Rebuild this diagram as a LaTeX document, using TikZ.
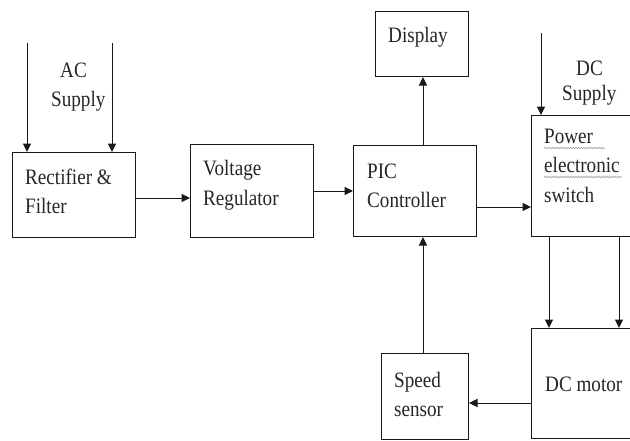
\documentclass[tikz,border=0pt]{standalone}
\usepackage{fontspec}
\setmainfont[FakeStretch=0.87]{Liberation Serif}
\usetikzlibrary{arrows.meta,decorations.pathmorphing}
\tikzset{
  box/.style={draw=black!90, line width=1pt, inner sep=0pt, anchor=north west},
  lbl/.style={inner sep=0pt, anchor=base west, text=black!85, font=\fontsize{22}{29}\selectfont},
  arr/.style={draw=black!90, line width=1pt, -{Triangle[length=8.5pt,width=8pt]}},
  squig/.style={draw=gray!70, line width=0.6pt, decorate, decoration={snake, amplitude=0.8pt, segment length=2.6pt}}
}
\begin{document}
\begin{tikzpicture}[x=1pt,y=-1pt]
\useasboundingbox (0,0) rectangle (630,440);
\clip (0,0) rectangle (630,440);
\fill[white] (0,0) rectangle (630,440);
% boxes
\node[box, minimum width=123pt, minimum height=85pt] (rect) at (12,152) {};
\node[box, minimum width=123pt, minimum height=93pt] (volt) at (190,144) {};
\node[box, minimum width=123pt, minimum height=91pt] (pic) at (353,145) {};
\node[box, minimum width=93pt, minimum height=65pt] (disp) at (375,11) {};
\node[box, minimum width=110pt, minimum height=121pt] (sw) at (531,115) {};
\node[box, minimum width=110pt, minimum height=110pt] (motor) at (531,328) {};
\node[box, minimum width=87pt, minimum height=86pt] (sensor) at (381,353) {};
% texts
\node[lbl] (t1) at (25,184) {Rectifier \&};
\node[lbl] (t2) at (25,213) {Filter};
\node[lbl] (t3) at (203,175) {Voltage};
\node[lbl] (t4) at (203,205) {Regulator};
\node[lbl] (t5) at (367,178) {PIC};
\node[lbl] (t6) at (367,207) {Controller};
\node[lbl] (t7) at (388,42) {Display};
\node[lbl] (t8) at (544,143) {Power};
\node[lbl] (t9) at (544,172) {electronic};
\node[lbl] (t10) at (544,202) {switch};
\node[lbl] (t11) at (545,391) {DC motor};
\node[lbl] (t12) at (394,387) {Speed};
\node[lbl] (t13) at (394,416) {sensor};
\node[lbl] (t14) at (60,77) {AC};
\node[lbl] (t15) at (51,106) {Supply};
\node[lbl] (t16) at (576,75) {DC};
\node[lbl] (t17) at (562,100) {Supply};
% spell-check squiggles
\draw[squig] (t8.base west) ++(0,5) -- ++(61,0);
\draw[squig] (t9.base west) ++(0,5) -- ++(78,0);
% free ends
\coordinate (ac1) at (27,43);
\coordinate (ac2) at (112,43);
\coordinate (dc) at (541,33);
\coordinate (m1) at (549,0);
\coordinate (m2) at (619,0);
\coordinate (y1) at (0,198);
\coordinate (y2) at (0,207);
\coordinate (y3) at (0,403);
\coordinate (x1) at (423,0);
% connectors
\draw[arr] (ac1) -- (ac1 |- rect.north);
\draw[arr] (ac2) -- (ac2 |- rect.north);
\draw[arr] (rect.east |- y1) -- (volt.west |- y1);
\draw[arr] (volt.east) -- (volt.east -| pic.west);
\draw[arr] (pic.east |- y2) -- (sw.west |- y2);
\draw[arr] (x1 |- pic.north) -- (x1 |- disp.south);
\draw[arr] (dc) -- (dc |- sw.north);
\draw[arr] (m1 |- sw.south) -- (m1 |- motor.north);
\draw[arr] (m2 |- sw.south) -- (m2 |- motor.north);
\draw[arr] (motor.west |- y3) -- (sensor.east |- y3);
\draw[arr] (x1 |- sensor.north) -- (x1 |- pic.south);
\end{tikzpicture}
\end{document}
